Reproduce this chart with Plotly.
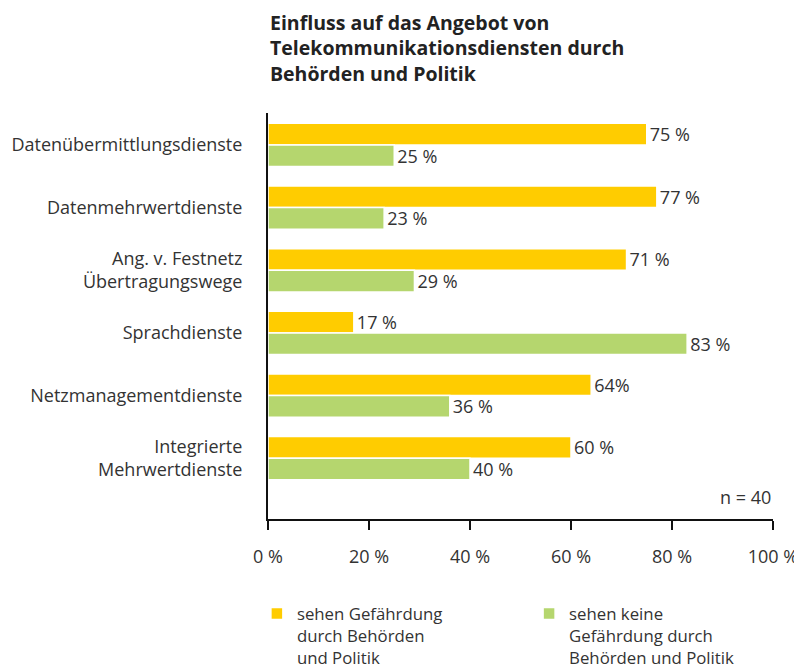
import plotly.graph_objects as go

categories = ["Datenübermittlungsdienste", "Datenmehrwertdienste",
              "Ang. v. Festnetz<br>Übertragungswege", "Sprachdienste",
              "Netzmanagementdienste", "Integrierte<br>Mehrwertdienste"]
gefahr = [75, 77, 71, 17, 64, 60]
keine_gefahr = [25, 23, 29, 83, 36, 40]
gefahr_text = ["75 %", "77 %", "71 %", "17 %", "64%", "60 %"]
keine_text = ["25 %", "23 %", "29 %", "83 %", "36 %", "40 %"]
xticks = [0, 20, 40, 60, 80, 100]
xticktext = ["0 %", "20 %", "40 %", "60 %", "80 %", "100 %"]

font = "Open Sans"
dark = "#333333"
fs = 18

fig = go.Figure()
fig.add_trace(go.Bar(y=categories, x=gefahr, orientation="h",
                     name="sehen Gefährdung<br>durch Behörden<br>und Politik",
                     marker=dict(color="#FFCC00", line=dict(color="white", width=1.5)),
                     text=gefahr_text, textposition="outside", constraintext="none",
                     textfont=dict(size=fs, color=dark, family=font),
                     cliponaxis=False, legend="legend"))
fig.add_trace(go.Bar(y=categories, x=keine_gefahr, orientation="h",
                     name="sehen keine<br>Gefährdung durch<br>Behörden und Politik",
                     marker=dict(color="#B5D66E", line=dict(color="white", width=1.5)),
                     text=keine_text, textposition="outside", constraintext="none",
                     textfont=dict(size=fs, color=dark, family=font),
                     cliponaxis=False, legend="legend2"))

leg = dict(y=-0.19, yanchor="top", xanchor="left", valign="top",
           bgcolor="rgba(0,0,0,0)", font=dict(size=16.8, color=dark, family=font))

fig.update_layout(
    width=802, height=670,
    margin=dict(l=260, r=37, t=105, b=159, autoexpand=False),
    barmode="group", bargap=0.31, bargroupgap=0,
    plot_bgcolor="white", paper_bgcolor="white",
    font=dict(family=font, size=fs, color=dark),
    legend=dict(x=-0.022, **leg),
    legend2=dict(x=0.517, **leg),
    showlegend=True,
)
fig.update_xaxes(range=[0, 100], tickvals=xticks, ticktext=xticktext,
                 automargin=False,
                 showgrid=False, zeroline=False,
                 showline=True, linecolor="#111111", linewidth=2,
                 ticks="outside", ticklen=9, tickwidth=2, tickcolor="#111111",
                 ticklabelstandoff=11, tickfont=dict(size=fs, color=dark))
fig.update_yaxes(autorange=False, range=[5.97, -0.51], categoryorder="array",
                 categoryarray=categories, automargin=False,
                 showgrid=False, zeroline=False,
                 showline=True, linecolor="#111111", linewidth=2,
                 ticks="", ticklabelstandoff=20, tickfont=dict(size=fs, color=dark))

fig.add_annotation(text="<b>Einfluss auf das Angebot von<br>Telekommunikationsdiensten durch<br>Behörden und Politik</b>",
                   x=0, xref="paper", xanchor="left", align="left",
                   y=1 + 106 / 406, yref="paper", yanchor="top", showarrow=False,
                   font=dict(size=19.5, color="#222222", family=font))

fig.add_annotation(text="n = 40", x=1, xref="paper", xanchor="right",
                   y=0.054, yref="paper", yanchor="middle", showarrow=False,
                   font=dict(size=fs, color=dark))

fig.write_html("out.html")
